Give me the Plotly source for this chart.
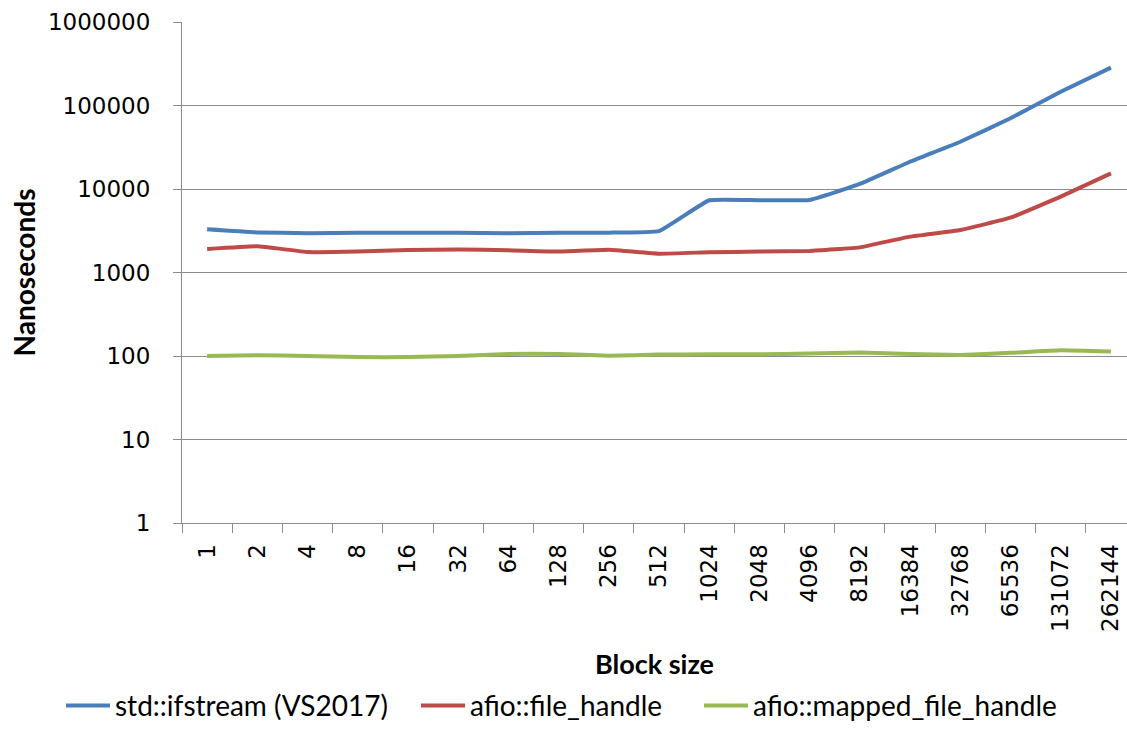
import plotly.graph_objects as go

block_sizes = ["1", "2", "4", "8", "16", "32", "64", "128", "256", "512", "1024", "2048",
               "4096", "8192", "16384", "32768", "65536", "131072", "262144"]
ifstream_ns = [3290, 3020, 2960, 2990, 3000, 3000, 2960, 3000, 3000, 3130, 7330, 7350,
               7400, 11500, 21200, 36800, 70300, 146000, 284000]
file_handle_ns = [1910, 2060, 1760, 1780, 1860, 1880, 1850, 1780, 1870, 1680, 1750, 1780,
                  1810, 2000, 2690, 3230, 4530, 8090, 15400]
mapped_ns = [100, 102, 100, 97, 97, 100, 106, 106, 101, 104, 105, 105,
             107, 110, 106, 103, 109, 117, 113]

series = [
    ("std::ifstream (VS2017)", ifstream_ns, "#4A7EBB", "legend", 61),
    ("afio::file_handle", file_handle_ns, "#BE4B48", "legend2", 416),
    ("afio::mapped_file_handle", mapped_ns, "#98B954", "legend3", 699),
]

L, T, W, H = 182, 22, 1127, 747
PW = W - L

fig = go.Figure()
legend_layout = {}
for name, vals, color, leg, lx in series:
    fig.add_trace(go.Scatter(x=block_sizes, y=vals, name=name, mode="lines", legend=leg,
                             line=dict(color=color, width=4, shape="spline", smoothing=0.3)))
    legend_layout[leg] = dict(orientation="h", x=(lx - L) / PW, xanchor="left",
                              y=-0.365, yanchor="middle",
                              font=dict(family="Lato", size=28, color="#000000"),
                              itemwidth=44, bgcolor="rgba(0,0,0,0)")

fig.update_layout(
    width=W, height=H,
    margin=dict(l=L, r=0, t=T, b=224, autoexpand=False),
    plot_bgcolor="white", paper_bgcolor="white",
    showlegend=True,
    **legend_layout,
    xaxis=dict(
        type="category", range=[-0.5, 18.32], automargin=False,
        showgrid=False, showline=True, linecolor="#8c8c8c", linewidth=1,
        ticks="outside", ticklen=9, tickcolor="#8c8c8c", tickson="boundaries",
        tickangle=-90, tickfont=dict(family="DejaVu Sans", size=23, color="#000000"),
        ticklabelstandoff=11,
        title=dict(text="<b>Block size</b>", font=dict(family="Lato", size=27, color="#000000"),
                   standoff=24),
    ),
    yaxis=dict(
        type="log", range=[0, 6], automargin=False,
        tickvals=[1, 10, 100, 1000, 10000, 100000, 1000000],
        ticktext=["1", "10", "100", "1000", "10000", "100000", "1000000"],
        showgrid=True, gridcolor="#8c8c8c", gridwidth=1,
        showline=True, linecolor="#8c8c8c", linewidth=1,
        ticks="outside", ticklen=8, tickcolor="#8c8c8c",
        tickfont=dict(family="DejaVu Sans", size=23, color="#000000"),
        ticklabelstandoff=18,
        title=dict(text="<b>Nanoseconds</b>", font=dict(family="Lato", size=28, color="#000000"),
                   standoff=4),
        zeroline=False,
    ),
)

fig.write_html("out.html", config={"displayModeBar": False},
               post_script="document.body.style.margin='0';")
